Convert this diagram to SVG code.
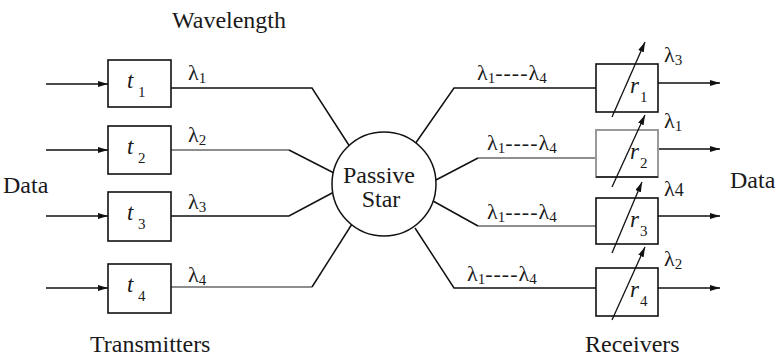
<svg xmlns="http://www.w3.org/2000/svg" width="777" height="358" viewBox="0 0 777 358">
<style>
text{font-family:'Liberation Serif','Times New Roman',serif;fill:#1a1a1a}
.lbl{font-size:24px}
.lam{font-size:22px}
.sub{font-size:15px}
.it{font-style:italic;font-size:23px}
.box{fill:#fff;stroke:#111;stroke-width:1.6}
.gbox{fill:#fff;stroke:#999;stroke-width:2}
.ln{fill:none;stroke:#111;stroke-width:1.5}
.gl{fill:none;stroke:#8e8e8e;stroke-width:2}
.ar{fill:none;stroke:#111;stroke-width:1.5;marker-end:url(#ah)}
.tu{fill:none;stroke:#111;stroke-width:1.3;marker-end:url(#ah)}
</style>
<defs>
<marker id="ah" viewBox="0 0 10 6" refX="10" refY="3" markerWidth="10" markerHeight="6" markerUnits="userSpaceOnUse" orient="auto"><path d="M0,0 L10,3 L0,6 z" fill="#111"/></marker>
</defs>

<g id="titles">
<text class="lbl" x="172" y="28">Wavelength</text>
<text class="lbl" x="90" y="352">Transmitters</text>
<text class="lbl" x="585" y="352">Receivers</text>
<text class="lbl" x="3" y="193">Data</text>
<text class="lbl" x="730" y="188">Data</text>
</g>

<g id="connectors">
  <line class="ar" x1="46" y1="84" x2="108" y2="84"/>
  <line class="ar" x1="46" y1="150" x2="108" y2="150"/>
  <line class="ar" x1="46" y1="216" x2="108" y2="216"/>
  <line class="ar" x1="46" y1="288" x2="108" y2="288"/>
  <polyline class="ln" points="171,88 312,88 352,150"/>
  <line class="gl" x1="171" y1="150" x2="289" y2="150"/><line class="ln" x1="289" y1="150" x2="334" y2="173"/>
  <polyline class="ln" points="171,216 289,216 334,192"/>
  <line class="gl" x1="171" y1="287" x2="312" y2="287"/><line class="ln" x1="312" y1="287" x2="352" y2="224"/>
  <polyline class="ln" points="596,88 454,88 415,144"/>
  <line class="gl" x1="596" y1="158" x2="478" y2="158"/><line class="ln" x1="478" y1="158" x2="434" y2="181"/>
  <line class="gl" x1="596" y1="226" x2="478" y2="226"/><line class="ln" x1="478" y1="226" x2="433" y2="201"/>
  <polyline class="ln" points="596,288 454,288 415,228"/>
  <line class="ar" x1="658" y1="83" x2="720" y2="83"/>
  <line class="ar" x1="658" y1="149" x2="720" y2="149"/>
  <line class="ar" x1="658" y1="216" x2="720" y2="216"/>
  <line class="ar" x1="658" y1="288" x2="720" y2="288"/>
</g>

<g id="star">
  <circle cx="384" cy="184" r="52" fill="#fff" stroke="#111" stroke-width="1.5"/>
  <text class="lbl" x="379" y="183" text-anchor="middle">Passive</text>
  <text class="lbl" x="381" y="207" text-anchor="middle">Star</text>
</g>

<g id="t1"><rect class="box" x="108" y="60" width="63" height="47"/><text class="it" x="127" y="88">t</text><text class="sub" x="138" y="97">1</text></g>
<g id="t2"><rect class="box" x="108" y="126" width="63" height="48"/><text class="it" x="127" y="154">t</text><text class="sub" x="138" y="163">2</text></g>
<g id="t3"><rect class="box" x="108" y="192" width="63" height="49"/><text class="it" x="127" y="220">t</text><text class="sub" x="138" y="229">3</text></g>
<g id="t4"><rect class="box" x="108" y="264" width="63" height="49"/><text class="it" x="127" y="292">t</text><text class="sub" x="138" y="301">4</text></g>

<g id="tx-labels">
  <text class="lam" x="188" y="80">λ<tspan class="sub" dy="3">1</tspan></text>
  <text class="lam" x="188" y="142">λ<tspan class="sub" dy="3">2</tspan></text>
  <text class="lam" x="188" y="209">λ<tspan class="sub" dy="3">3</tspan></text>
  <text class="lam" x="188" y="282">λ<tspan class="sub" dy="3">4</tspan></text>
</g>

<g id="r1"><rect class="box" x="596" y="64" width="62" height="48"/><text class="it" x="630" y="93">r</text><text class="sub" x="640" y="102">1</text><line class="tu" x1="612" y1="117" x2="645" y2="42"/></g>
<g id="r2"><rect class="gbox" x="596" y="130" width="62" height="47"/><line x1="596" y1="177" x2="658" y2="177" stroke="#111" stroke-width="1.6"/><text class="it" x="630" y="159">r</text><text class="sub" x="640" y="168">2</text><line class="tu" x1="612" y1="187" x2="645" y2="115"/></g>
<g id="r3"><rect class="box" x="596" y="198" width="62" height="46"/><text class="it" x="630" y="227">r</text><text class="sub" x="640" y="236">3</text><line class="tu" x1="612" y1="253" x2="642" y2="182"/></g>
<g id="r4"><rect class="box" x="596" y="268" width="62" height="48"/><text class="it" x="630" y="297">r</text><text class="sub" x="640" y="306">4</text><line class="tu" x1="612" y1="320" x2="645" y2="247"/></g>

<g id="rx-labels">
  <text class="lam" x="664" y="62">λ<tspan class="sub" dy="3">3</tspan></text>
  <text class="lam" x="664" y="128">λ<tspan class="sub" dy="3">1</tspan></text>
  <text class="lam" x="664" y="196">λ<tspan font-size="18">4</tspan></text>
  <text class="lam" x="664" y="266">λ<tspan class="sub" dy="3">2</tspan></text>
  <text class="lam" x="477" y="80">λ<tspan class="sub" dy="3">1</tspan><tspan dy="-3" letter-spacing="1">----</tspan>λ<tspan class="sub" dy="3">4</tspan></text>
  <text class="lam" x="487" y="150">λ<tspan class="sub" dy="3">1</tspan><tspan dy="-3" letter-spacing="1">----</tspan>λ<tspan class="sub" dy="3">4</tspan></text>
  <text class="lam" x="487" y="219">λ<tspan class="sub" dy="3">1</tspan><tspan dy="-3" letter-spacing="1">----</tspan>λ<tspan class="sub" dy="3">4</tspan></text>
  <text class="lam" x="467" y="281">λ<tspan class="sub" dy="3">1</tspan><tspan dy="-3" letter-spacing="1">----</tspan>λ<tspan class="sub" dy="3">4</tspan></text>
</g>
</svg>
